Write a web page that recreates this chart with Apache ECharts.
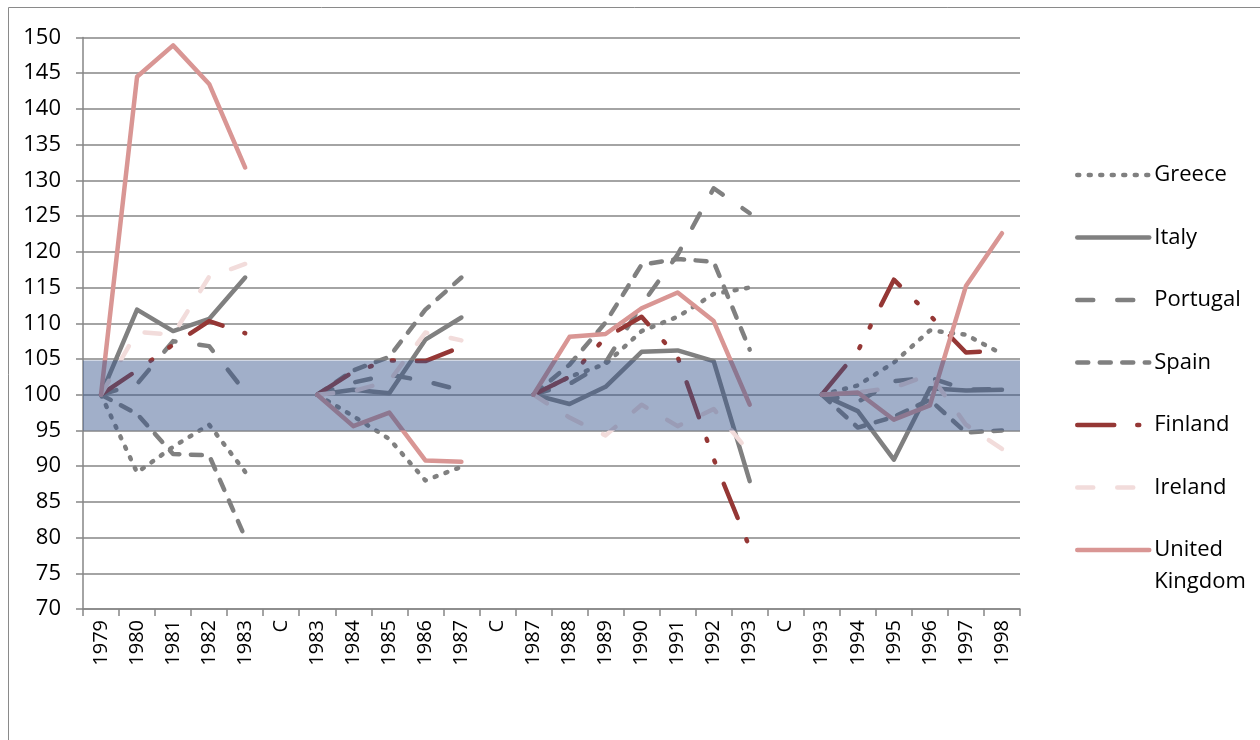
<!DOCTYPE html>
<html>
<head>
<meta charset="utf-8">
<script src="https://cdn.jsdelivr.net/npm/echarts@6/dist/echarts.min.js"></script>
<style>
  html, body { margin: 0; padding: 0; background: #fff; }
  #chart { width: 1260px; height: 740px; }
</style>
</head>
<body>
<div id="chart"></div>
<script>
// categories: four windows of years, separated by "C" gaps
var categories = ['1979','1980','1981','1982','1983','C',
                  '1983','1984','1985','1986','1987','C',
                  '1987','1988','1989','1990','1991','1992','1993','C',
                  '1993','1994','1995','1996','1997','1998'];

var greece   = [100, 89.1, 92.7, 95.8, 89.2, null, 100, 97.0, 93.8, 88.0, 89.9, null,
                100, 102.5, 104.3, 108.9, 110.9, 114.1, 115.0, null, 100, 101.3, 104.5, 109.0, 108.4, 105.7];
var italy    = [100, 111.9, 108.9, 110.6, 116.4, null, 100, 100.7, 100.2, 107.7, 110.8, null,
                100, 98.7, 101.1, 106.0, 106.2, 104.7, 87.9, null, 100, 97.7, 90.9, 100.9, 100.6, 100.7];
var portugal = [100, 101.5, 107.5, 106.8, 100.4, null, 100, 101.7, 102.8, 101.9, 100.6, null,
                100, 101.5, 104.5, 112.6, 119.6, 128.9, 125.4, null, 100, 99.0, 101.9, 102.4, 100.7, 100.8];
var spain    = [100, 97.3, 91.7, 91.5, 80.0, null, 100, 103.4, 105.3, 111.9, 116.4, null,
                100, 104.2, 110.1, 118.2, 119.0, 118.6, 106.3, null, 100, 95.4, 96.9, 99.3, 94.7, 95.0];
var finland  = [100, 103.4, 107.0, 110.3, 108.6, null, 100, 103.2, 104.8, 104.7, 106.7, null,
                100, 102.5, 108.0, 110.9, 105.3, 91.0, 78.6, null, 100, 106.1, 116.1, 111.1, 105.9, 106.2];
var ireland  = [100, 108.8, 108.4, 116.5, 118.3, null, 100, 100.5, 101.9, 108.7, 107.6, null,
                100, 96.8, 94.3, 98.6, 95.6, 98.0, 91.9, null, 100, 100.3, 101.0, 102.8, 95.8, 92.4];
var uk       = [100, 144.5, 148.9, 143.5, 131.8, null, 100, 95.6, 97.5, 90.8, 90.6, null,
                100, 108.1, 108.5, 112.1, 114.3, 110.3, 98.6, null, 100, 100.3, 96.5, 98.5, 115.2, 122.6];

var bandRange = [95, 104.8];   // shaded +/-5 band

var gray = '#808080';
var gridColor = '#868686';
var lineW = 4.5;

function mkLine(name, data, color, dash) {
    return {
        name: name,
        type: 'line',
        data: data,
        symbol: 'none',
        connectNulls: false,
        lineStyle: { color: color, width: lineW, type: dash, cap: 'round', join: 'round' },
        itemStyle: { color: color },
        z: 2
    };
}

// shared legend look (line only, symbol made invisible)
function mkLegend(top, data) {
    return {
        orient: 'vertical',
        left: 1075,
        top: top,
        padding: 0,
        itemWidth: 72,
        itemHeight: 14,
        itemGap: 34.5,
        itemStyle: { color: 'rgba(0,0,0,0)', borderWidth: 0, opacity: 0 },
        lineStyle: { width: lineW, cap: 'round' },
        textStyle: { fontSize: 22, color: '#000', fontFamily: 'Open Sans', lineHeight: 28 },
        data: data,
        formatter: function (name) {
            // blank first line so "United" sits level with the line sample
            return name === 'United Kingdom' ? ' \nUnited\nKingdom' : name;
        }
    };
}

var chart = echarts.init(document.getElementById('chart'));

var option = {
    animation: false,
    backgroundColor: '#fff',
    textStyle: { fontFamily: 'Open Sans' },
    grid: { left: 83, top: 37.5, right: 240, bottom: 131 },
    graphic: [{
        type: 'rect',
        shape: { x: 8.5, y: 7.5, width: 1400, height: 900 },
        style: { fill: 'none', stroke: '#8a8a8a', lineWidth: 1 },
        silent: true, z: -1
    }],
    legend: [
        mkLegend(161, ['Greece', 'Italy', 'Portugal', 'Spain', 'Finland', 'Ireland']),
        mkLegend(502, [{ name: 'United Kingdom', textStyle: { lineHeight: 32 } }])
    ],
    xAxis: {
        type: 'category',
        data: categories,
        boundaryGap: true,
        axisLine: { lineStyle: { color: gridColor, width: 1.5 } },
        axisTick: { show: true, length: 7, lineStyle: { color: gridColor, width: 1.5 } },
        axisLabel: { rotate: 90, interval: 0, fontSize: 20, color: '#000', margin: 11, fontFamily: 'Open Sans' }
    },
    yAxis: {
        type: 'value',
        min: 70,
        max: 150,
        interval: 5,
        axisLine: { show: true, lineStyle: { color: gridColor, width: 1.5 } },
        axisTick: { show: true, length: 7, lineStyle: { color: gridColor, width: 1.5 } },
        axisLabel: { fontSize: 22, color: '#000', margin: 22, fontFamily: 'Open Sans' },
        splitLine: { lineStyle: { color: gridColor, width: 1.5 } }
    },
    series: [
        mkLine('Greece', greece, gray, [2, 9.5]),
        mkLine('Italy', italy, gray, 'solid'),
        mkLine('Portugal', portugal, gray, [16, 24]),
        mkLine('Spain', spain, gray, [11, 11.5]),
        mkLine('Finland', finland, '#953735', [37, 23, 2, 21, 2, 23]),
        mkLine('Ireland', ireland, '#F2DCDB', [16, 24]),
        mkLine('United Kingdom', uk, '#D99694', 'solid'),
        {
            name: 'band',
            type: 'line',
            data: categories.map(function () { return null; }),
            symbol: 'none',
            z: 10,
            markArea: {
                silent: true,
                z: 10,
                itemStyle: { color: 'rgba(55,85,140,0.47)' },
                data: [[{ yAxis: bandRange[0] }, { yAxis: bandRange[1] }]]
            }
        }
    ]
};

chart.setOption(option);
</script>
</body>
</html>
